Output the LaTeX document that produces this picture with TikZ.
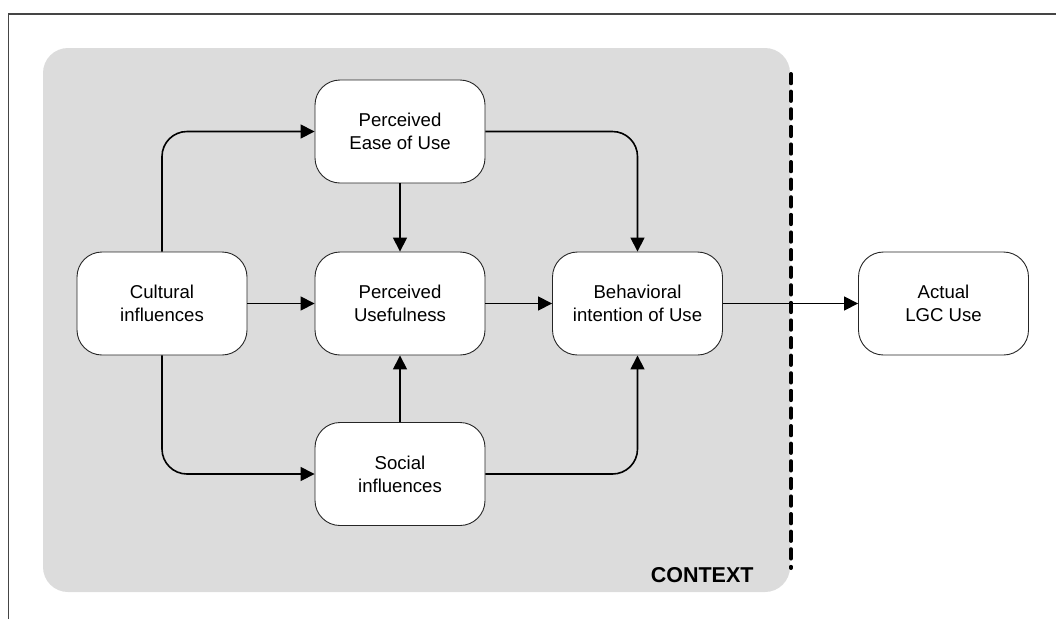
\documentclass[tikz,border=0pt]{standalone}
\usepackage{fontspec}
\setmainfont{Liberation Sans}
\usetikzlibrary{arrows.meta}
\definecolor{ctxgray}{HTML}{DCDCDC}
\definecolor{framegray}{HTML}{454545}
\begin{document}
\begin{tikzpicture}[
  x=1pt, y=-1pt,
  box/.style={draw=black!85, fill=white, rounded corners=25pt, line width=0.9pt,
    minimum width=170pt, minimum height=103pt, align=center, inner sep=0pt,
    font=\fontsize{18.6}{23}\selectfont},
  arrow/.style={-{Triangle[length=14pt,width=14pt]}, line width=1.6pt, rounded corners=25pt}
]
  \useasboundingbox (0,0) rectangle (1056,619);
  \draw[framegray, line width=1.5pt] (8.5,619) -- (8.5,14) -- (1056,14);
  \fill[ctxgray, rounded corners=25pt] (43,48) rectangle (790,592);
  \draw[line width=4pt, line cap=round, dash pattern=on 9.3pt off 8.3pt] (791,74) -- (791,568);
  \node[anchor=base east, font=\fontsize{21.5}{25}\selectfont\bfseries] (ctx) at (757,582) {CONTEXT};

  \node[box] (cult) at (162,303.5) {Cultural\\influences};
  \node[box] (ease) at (400,131.5) {Perceived\\Ease of Use};
  \node[box] (useful) at (400,303.5) {Perceived\\Usefulness};
  \node[box] (social) at (400,474) {Social\\influences};
  \node[box] (behav) at (637.5,303.5) {Behavioral\\intention of Use};
  \node[box] (actual) at (943.5,303.5) {Actual\\LGC Use};

  \draw[arrow] (cult) |- (ease);
  \draw[arrow] (cult) |- (social);
  \draw[arrow] (cult) -- (useful);
  \draw[arrow] (ease) -- (useful);
  \draw[arrow] (social) -- (useful);
  \draw[arrow] (useful) -- (behav);
  \draw[arrow] (ease) -| (behav);
  \draw[arrow] (social) -| (behav);
  \draw[arrow] (behav) -- (actual);
\end{tikzpicture}
\end{document}
